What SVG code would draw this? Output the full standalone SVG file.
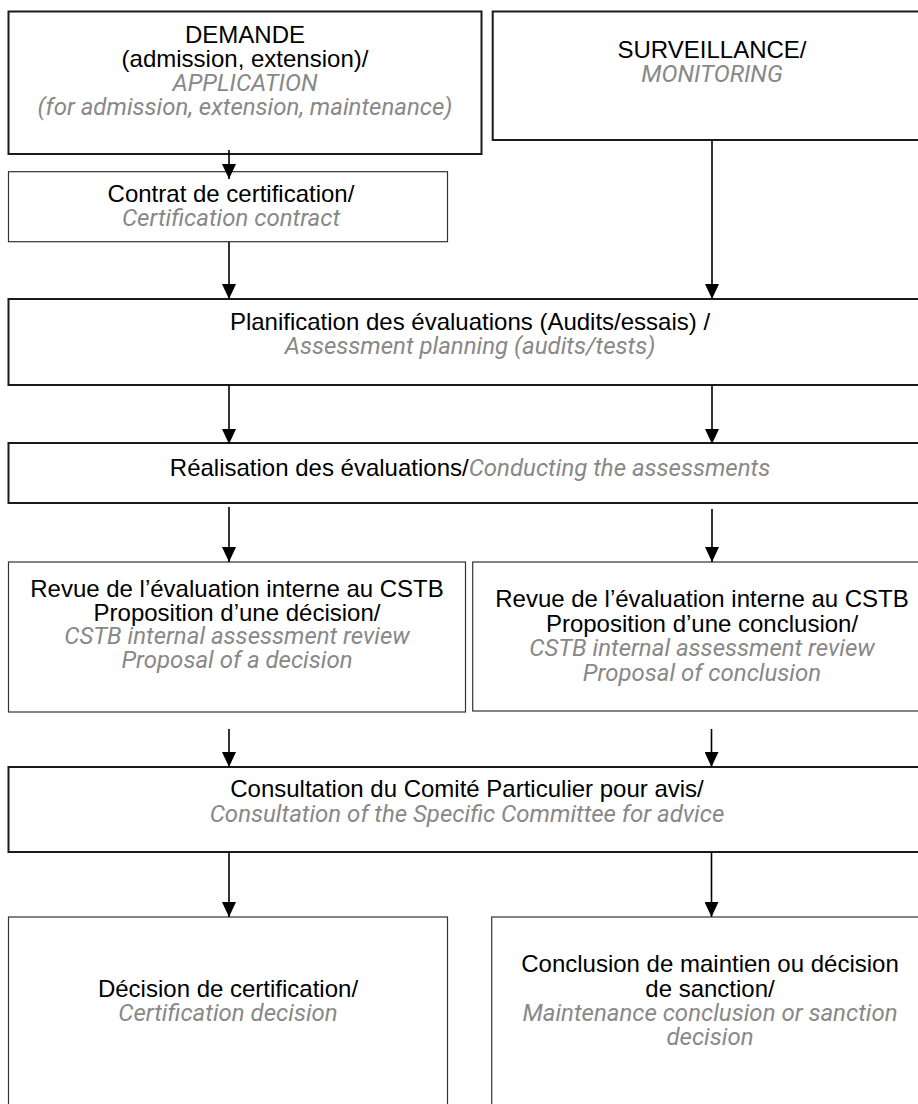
<svg xmlns="http://www.w3.org/2000/svg" width="918" height="1104" viewBox="0 0 918 1104">
<style>
.thick{fill:#fff;stroke:#1a1a1a;stroke-width:2}
.thin{fill:#fff;stroke:#333;stroke-width:1.2}
.fr{font-family:"Liberation Sans",Arial,sans-serif;font-size:24px;fill:#000;text-anchor:middle}
.en{font-family:Roboto,"Liberation Sans",sans-serif;font-style:italic;font-size:24px;fill:#888;text-anchor:middle}
.en2{font-family:Roboto,"Liberation Sans",sans-serif;font-style:italic;fill:#888}
.arrow{stroke:#000;stroke-width:1.6;fill:none;marker-end:url(#ah)}
</style>
<defs>
<marker id="ah" viewBox="0 0 15 14" refX="15" refY="7" markerWidth="15" markerHeight="14" orient="auto" markerUnits="userSpaceOnUse">
<path d="M0,0 L15,7 L0,14 z" fill="#000"/>
</marker>
</defs>
<rect width="918" height="1104" fill="#fff"/>
<g id="demande">
<rect class="thick" x="8.5" y="11.5" width="473" height="142.5"/>
<text class="fr" x="245" y="43">DEMANDE</text>
<text class="fr" x="245" y="67">(admission, extension)/</text>
<text class="en" x="245" y="91">APPLICATION</text>
<text class="en" x="245" y="115">(for admission, extension, maintenance)</text>
</g>
<g id="surveillance">
<rect class="thick" x="492.7" y="11.5" width="440" height="128.5"/>
<text class="fr" x="712" y="57.5">SURVEILLANCE/</text>
<text class="en" x="712" y="81.5">MONITORING</text>
</g>
<g id="contrat">
<rect class="thin" x="8.5" y="171.7" width="439" height="70"/>
<text class="fr" x="231" y="201.5">Contrat de certification/</text>
<text class="en" x="231" y="225.5">Certification contract</text>
</g>
<g id="planification">
<rect class="thick" x="8.5" y="299" width="924" height="86"/>
<text class="fr" x="470" y="330">Planification des évaluations (Audits/essais) /</text>
<text class="en" x="470" y="354">Assessment planning (audits/tests)</text>
</g>
<g id="realisation">
<rect class="thick" x="8.5" y="443" width="924" height="60"/>
<text class="fr" x="470" y="476">Réalisation des évaluations/<tspan class="en2">Conducting the assessments</tspan></text>
</g>
<g id="revue-decision">
<rect class="thin" x="8.5" y="562" width="457" height="150"/>
<text class="fr" x="237" y="597">Revue de l’évaluation interne au CSTB</text>
<text class="fr" x="237" y="620.5">Proposition d’une décision/</text>
<text class="en" x="237" y="644">CSTB internal assessment review</text>
<text class="en" x="237" y="667.5">Proposal of a decision</text>
</g>
<g id="revue-conclusion">
<rect class="thin" x="472.7" y="562" width="460" height="149"/>
<text class="fr" x="702" y="607">Revue de l’évaluation interne au CSTB</text>
<text class="fr" x="702" y="631.5">Proposition d’une conclusion/</text>
<text class="en" x="702" y="656">CSTB internal assessment review</text>
<text class="en" x="702" y="680.5">Proposal of conclusion</text>
</g>
<g id="consultation">
<rect class="thick" x="8.5" y="767" width="924" height="85"/>
<text class="fr" x="467" y="797">Consultation du Comité Particulier pour avis/</text>
<text class="en" x="467" y="821.5">Consultation of the Specific Committee for advice</text>
</g>
<g id="decision-certification">
<rect class="thin" x="8.5" y="917" width="439" height="200"/>
<text class="fr" x="228" y="997">Décision de certification/</text>
<text class="en" x="228" y="1021">Certification decision</text>
</g>
<g id="conclusion-sanction">
<rect class="thin" x="491.7" y="917" width="440" height="200"/>
<text class="fr" x="710" y="972">Conclusion de maintien ou décision</text>
<text class="fr" x="710" y="996.5">de sanction/</text>
<text class="en" x="710" y="1020.5">Maintenance conclusion or sanction</text>
<text class="en" x="710" y="1044.5">decision</text>
</g>
<g id="connectors">
<line class="arrow" x1="229" y1="150" x2="229" y2="179"/>
<line class="arrow" x1="229" y1="242" x2="229" y2="299"/>
<line class="arrow" x1="712" y1="140" x2="712" y2="299"/>
<line class="arrow" x1="229" y1="385" x2="229" y2="444"/>
<line class="arrow" x1="712" y1="385" x2="712" y2="444"/>
<line class="arrow" x1="229" y1="507" x2="229" y2="562"/>
<line class="arrow" x1="712" y1="509" x2="712" y2="562"/>
<line class="arrow" x1="229" y1="729" x2="229" y2="767"/>
<line class="arrow" x1="711.5" y1="729" x2="711.5" y2="767"/>
<line class="arrow" x1="229" y1="852" x2="229" y2="917"/>
<line class="arrow" x1="711.5" y1="852" x2="711.5" y2="917"/>
</g>
</svg>
